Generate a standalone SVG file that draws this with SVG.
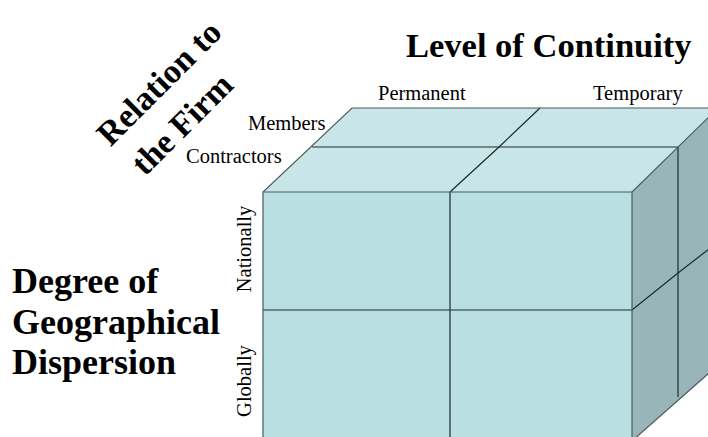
<svg xmlns="http://www.w3.org/2000/svg" width="708" height="437" viewBox="0 0 708 437">
<style>
.t{font-family:"Liberation Serif","Times New Roman",serif;fill:#000}
.b{font-weight:bold}
.lab{font-size:20.5px}
.top{fill:#c8e5e8}
.front{fill:#badfe2}
.side{fill:#98b6b9}
.edge{stroke:#4a5c5e;stroke-width:1.2;fill:none}
.div{stroke:#1e2a2c;stroke-width:1.2;fill:none}
</style>
<rect width="708" height="437" fill="#ffffff"/>
<g id="cube">
<polygon class="top" points="263,192 352,108 718,108 632,192"/>
<polygon class="side" points="632,192 718,108 718,365 632,441"/>
<rect class="front" x="263" y="192" width="369" height="249"/>
<polyline class="div" points="312,147 678,147"/>
<polyline class="div" points="450,192 499,147 540,108"/>
<polyline class="div" points="632,310 678,273 718,242"/>
<line class="div" x1="678" y1="147" x2="678" y2="397"/>
<line class="div" x1="450" y1="192" x2="450" y2="441"/>
<line class="div" x1="263" y1="310" x2="632" y2="310"/>
<polyline class="edge" points="263,441 263,192 352,108 718,108"/>
<line class="edge" x1="263" y1="192" x2="632" y2="192"/>
<polyline class="edge" points="632,441 632,192 718,108"/>
<line class="edge" x1="632" y1="441" x2="718" y2="365"/>
</g>
<g id="labels">
<text class="t b" x="406" y="57" font-size="34.5">Level of Continuity</text>
<text class="t lab" x="378" y="100">Permanent</text>
<text class="t lab" x="593" y="100">Temporary</text>
<text class="t lab" x="248" y="130">Members</text>
<text class="t lab" x="186" y="163">Contractors</text>
<text class="t lab" text-anchor="middle" transform="translate(251,249) rotate(-90)">Nationally</text>
<text class="t lab" text-anchor="middle" transform="translate(251,381) rotate(-90)">Globally</text>
<text class="t b" font-size="36" x="12" y="293">Degree of</text>
<text class="t b" font-size="36" x="12" y="334">Geographical</text>
<text class="t b" font-size="36" x="12" y="374">Dispersion</text>
<text class="t b" font-size="34" text-anchor="middle" transform="translate(167,91) rotate(-45)">Relation to</text>
<text class="t b" font-size="34" text-anchor="middle" transform="translate(190,132) rotate(-45)">the Firm</text>
</g>
</svg>
